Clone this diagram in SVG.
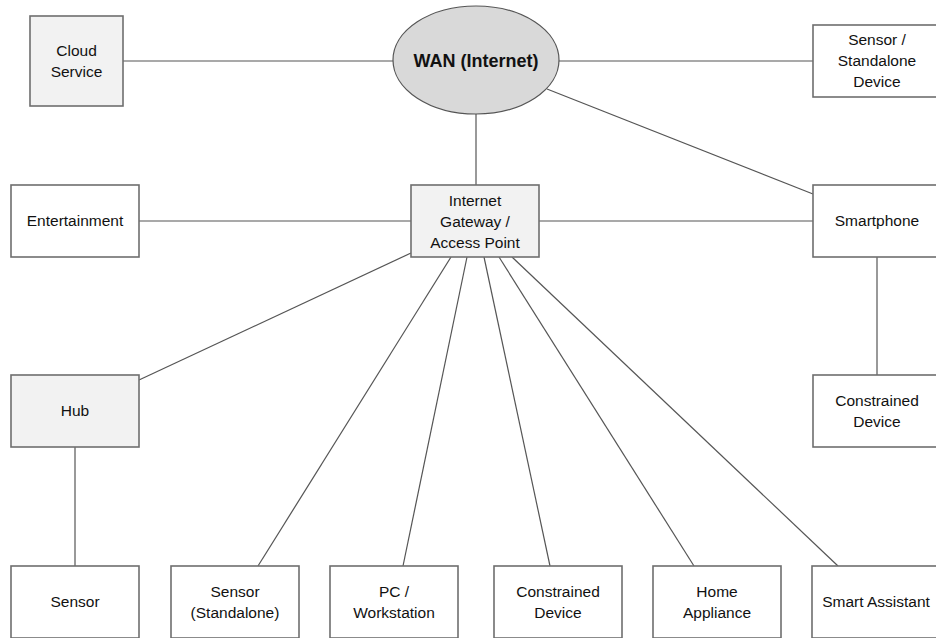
<svg xmlns="http://www.w3.org/2000/svg" width="936" height="638" viewBox="0 0 936 638">
<style>
.b{fill:#fff;stroke:#6e6e6e;stroke-width:1.6}
.g{fill:#f2f2f2;stroke:#6e6e6e;stroke-width:1.6}
.t{font-family:"Liberation Sans",Arial,sans-serif;font-size:15.5px;fill:#111;text-anchor:middle}
.c line{stroke:#555;stroke-width:1.2}
</style>
<rect width="936" height="638" fill="#fff"/>
<g class="c" id="connectors">
<line x1="123" y1="61" x2="393" y2="61"/>
<line x1="559" y1="61" x2="813" y2="61"/>
<line x1="547" y1="89" x2="813" y2="194"/>
<line x1="476" y1="114" x2="476" y2="185"/>
<line x1="139" y1="221" x2="411" y2="221"/>
<line x1="539" y1="221" x2="813" y2="221"/>
<line x1="877" y1="257" x2="877" y2="375"/>
<line x1="411" y1="253" x2="139" y2="380"/>
<line x1="75" y1="447" x2="75" y2="566"/>
<line x1="451" y1="257" x2="258" y2="566"/>
<line x1="467" y1="257" x2="403" y2="566"/>
<line x1="484" y1="257" x2="550" y2="566"/>
<line x1="499" y1="257" x2="694" y2="566"/>
<line x1="512" y1="257" x2="838" y2="566"/>
</g>
<g id="cloud"><rect class="g" x="30" y="16" width="93" height="90"/><text class="t" x="76.5" y="56">Cloud</text><text class="t" x="76.5" y="77">Service</text></g>
<g id="wan"><ellipse cx="476" cy="60" rx="83" ry="54" fill="#d9d9d9" stroke="#555" stroke-width="1.2"/><text class="t" x="476" y="67" style="font-weight:bold;font-size:18px">WAN (Internet)</text></g>
<g id="sensor-standalone-device"><rect class="b" x="813" y="25" width="128" height="72"/><text class="t" x="877" y="45">Sensor /</text><text class="t" x="877" y="66">Standalone</text><text class="t" x="877" y="87">Device</text></g>
<g id="entertainment"><rect class="b" x="11" y="185" width="128" height="72"/><text class="t" x="75" y="226">Entertainment</text></g>
<g id="gateway"><rect class="g" x="411" y="185" width="128" height="72"/><text class="t" x="475" y="206">Internet</text><text class="t" x="475" y="227">Gateway /</text><text class="t" x="475" y="248">Access Point</text></g>
<g id="smartphone"><rect class="b" x="813" y="185" width="128" height="72"/><text class="t" x="877" y="226">Smartphone</text></g>
<g id="hub"><rect class="g" x="11" y="375" width="128" height="72"/><text class="t" x="75" y="416">Hub</text></g>
<g id="constrained-right"><rect class="b" x="813" y="375" width="128" height="72"/><text class="t" x="877" y="406">Constrained</text><text class="t" x="877" y="427">Device</text></g>
<g id="sensor"><rect class="b" x="11" y="566" width="128" height="72"/><text class="t" x="75" y="607">Sensor</text></g>
<g id="sensor-standalone"><rect class="b" x="171" y="566" width="128" height="72"/><text class="t" x="235" y="597">Sensor</text><text class="t" x="235" y="618">(Standalone)</text></g>
<g id="pc"><rect class="b" x="330" y="566" width="128" height="72"/><text class="t" x="394" y="597">PC /</text><text class="t" x="394" y="618">Workstation</text></g>
<g id="constrained-bottom"><rect class="b" x="494" y="566" width="128" height="72"/><text class="t" x="558" y="597">Constrained</text><text class="t" x="558" y="618">Device</text></g>
<g id="home-appliance"><rect class="b" x="653" y="566" width="128" height="72"/><text class="t" x="717" y="597">Home</text><text class="t" x="717" y="618">Appliance</text></g>
<g id="smart-assistant"><rect class="b" x="812" y="566" width="128" height="72"/><text class="t" x="876" y="607">Smart Assistant</text></g>
</svg>
